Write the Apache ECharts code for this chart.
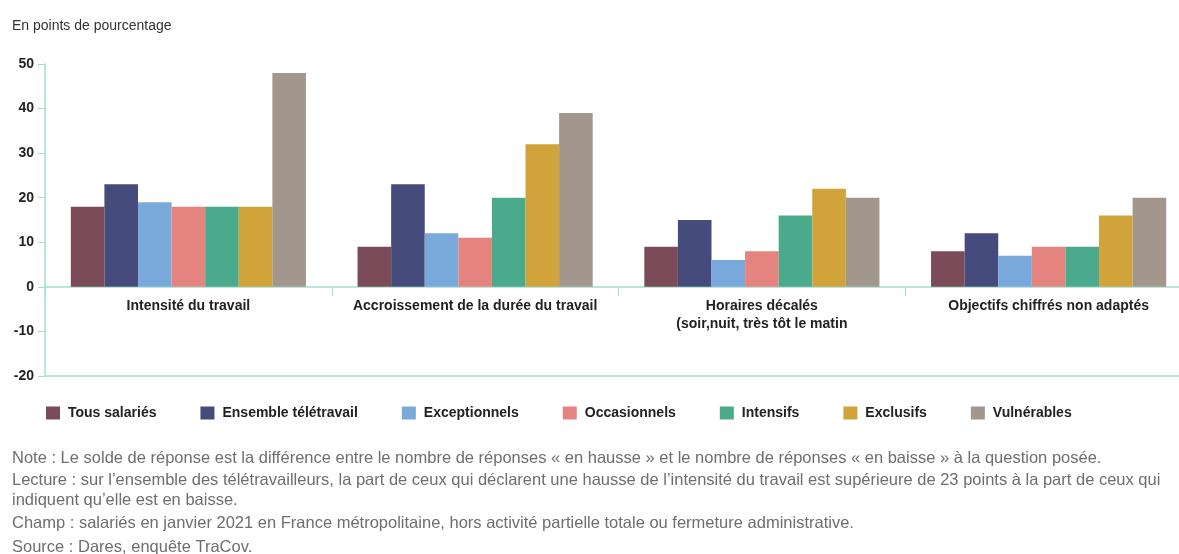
<!DOCTYPE html>
<html>
<head>
<meta charset="utf-8">
<script src="https://cdn.jsdelivr.net/npm/echarts@6/dist/echarts.min.js"></script>
<style>
  html, body { margin: 0; padding: 0; background: #fff; }
  #chart { width: 1179px; height: 554px; }
</style>
</head>
<body>
<div id="chart"></div>
<script>
// Solde de réponses (en points de pourcentage) par catégorie de salariés
const categories = [
  'Intensité du travail',
  'Accroissement de la durée du travail',
  'Horaires décalés\n(soir,nuit, très tôt le matin',
  'Objectifs chiffrés non adaptés'
];
const seriesNames = [
  'Tous salariés', 'Ensemble télétravail', 'Exceptionnels',
  'Occasionnels', 'Intensifs', 'Exclusifs', 'Vulnérables'
];
const tousSalaries        = [18,  9,  9,  8];
const ensembleTeletravail = [23, 23, 15, 12];
const exceptionnels       = [19, 12,  6,  7];
const occasionnels        = [18, 11,  8,  9];
const intensifs           = [18, 20, 16,  9];
const exclusifs           = [18, 32, 22, 16];
const vulnerables         = [48, 39, 20, 20];
const yTicks = { min: -20, max: 50, step: 10 };

const seriesValues = [tousSalaries, ensembleTeletravail, exceptionnels,
  occasionnels, intensifs, exclusifs, vulnerables];
const colors = ['#7b4b59', '#454b7b', '#79a9db', '#e5847e', '#4caa8c', '#d0a33b', '#a3968c'];

const notes = [
  'Note : Le solde de réponse est la différence entre le nombre de réponses « en hausse » et le nombre de réponses « en baisse » à la question posée.',
  'Lecture : sur l’ensemble des télétravailleurs, la part de ceux qui déclarent une hausse de l’intensité du travail est supérieure de 23 points à la part de ceux qui',
  'indiquent qu’elle est en baisse.',
  'Champ : salariés en janvier 2021 en France métropolitaine, hors activité partielle totale ou fermeture administrative.',
  'Source : Dares, enquête TraCov.'
];

const FONT = '"Liberation Sans", Arial, Helvetica, sans-serif';
const axisColor = '#a3e0cf';

const chart = echarts.init(document.getElementById('chart'), null, { renderer: 'canvas' });

const noteTops = [450, 472, 492, 515, 539];

chart.setOption({
  animation: false,
  color: colors,
  textStyle: { fontFamily: FONT },
  // the plot runs slightly past the right edge of the page
  grid: { left: 45, width: 1147, top: 64, bottom: 178, containLabel: false, outerBoundsMode: 'none' },
  legend: {
    data: seriesNames,
    left: 41,
    top: 401,
    icon: 'rect',
    itemWidth: 14,
    itemHeight: 13,
    itemGap: 44,
    selectedMode: false,
    textStyle: { fontFamily: FONT, fontSize: 14, fontWeight: 'bold', color: '#222', padding: [0, 0, 0, 3] }
  },
  xAxis: {
    type: 'category',
    data: categories,
    axisLine: { show: true, onZero: true, lineStyle: { color: axisColor, width: 1.5 } },
    axisTick: { show: true, length: 9, lineStyle: { color: axisColor } },
    axisLabel: {
      // labels sit just under the zero line rather than under the plot's bottom edge
      interval: 0, margin: -79, fontFamily: FONT, fontSize: 14, fontWeight: 'bold',
      color: '#222', lineHeight: 18
    }
  },
  yAxis: {
    type: 'value',
    min: yTicks.min,
    max: yTicks.max,
    interval: yTicks.step,
    axisLine: { show: true, lineStyle: { color: axisColor, width: 1.5 } },
    axisTick: { show: true, length: 7, lineStyle: { color: axisColor } },
    splitLine: { show: false },
    axisLabel: { margin: 11, fontFamily: FONT, fontSize: 14, fontWeight: 'bold', color: '#222' }
  },
  series: seriesNames.map((name, i) => {
    const s = {
      name: name,
      type: 'bar',
      data: seriesValues[i],
      barGap: '0%',
      barCategoryGap: '18%',
      itemStyle: { color: colors[i] }
    };
    if (i === 0) {
      // baseline drawn at the bottom of the value range
      s.markLine = {
        silent: true,
        symbol: 'none',
        label: { show: false },
        lineStyle: { color: axisColor, type: 'solid', width: 1.5 },
        data: [{ yAxis: yTicks.min }]
      };
    }
    return s;
  }),
  graphic: [{
    type: 'text',
    left: 12, top: 19,
    style: { text: 'En points de pourcentage', fontFamily: FONT, fontSize: 14, fill: '#333' }
  }].concat(notes.map((t, i) => ({
    type: 'text',
    left: 12, top: noteTops[i],
    style: { text: t, fontFamily: FONT, fontSize: 16.5, fill: '#6e6e6e' }
  })))
});
</script>
</body>
</html>
